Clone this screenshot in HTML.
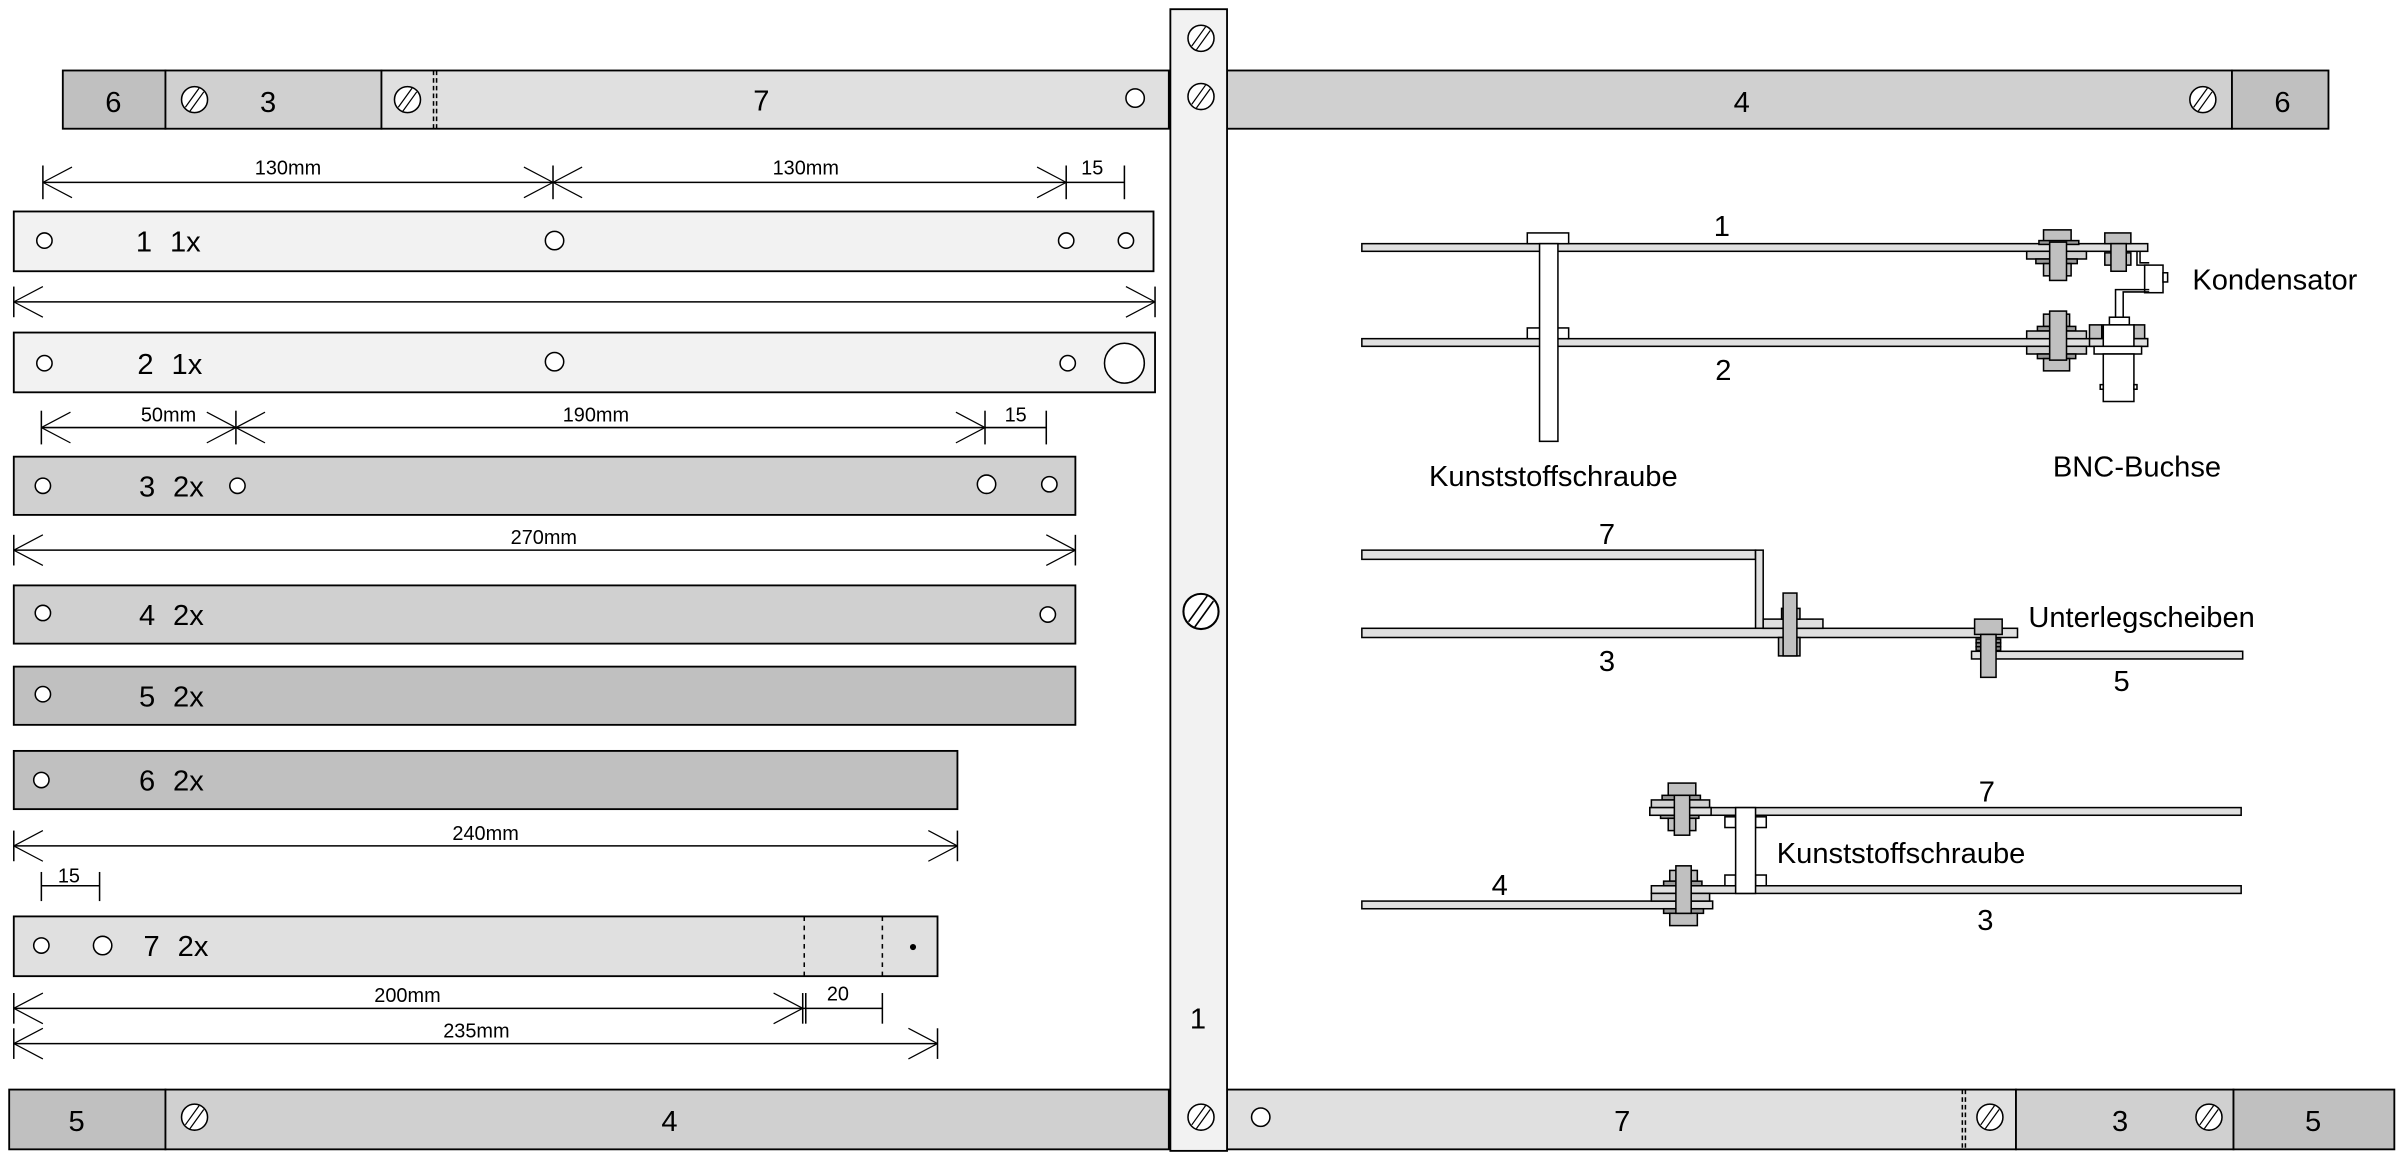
<!DOCTYPE html>
<html><head><meta charset="utf-8"><style>
html,body{margin:0;padding:0;background:#fff;}
svg{display:block;}
text{font-family:"Liberation Sans",Arial,sans-serif;fill:#000;}
</style></head><body>
<svg width="2402" height="1157" viewBox="0 0 1568 755" preserveAspectRatio="none" xmlns="http://www.w3.org/2000/svg">
<defs>
<g id="sc"><circle r="8.5" fill="#fff" stroke="#000" stroke-width="1"/><line x1="-6" y1="5" x2="3" y2="-7.5" stroke="#000" stroke-width="0.8"/><line x1="-3" y1="7.5" x2="6" y2="-5" stroke="#000" stroke-width="0.8"/></g>
<g id="ar"><path d="M0,0 L19,-10 M0,0 L19,10" stroke="#000" stroke-width="0.8" fill="none"/></g>
</defs>
<g stroke="#000" stroke-width="1.2">
<rect x="41" y="46" width="67" height="38" fill="#c0c0c0"/>
<rect x="108" y="46" width="141" height="38" fill="#d0d0d0"/>
<rect x="249" y="46" width="514" height="38" fill="#e0e0e0"/>
<rect x="801" y="46" width="656" height="38" fill="#d0d0d0"/>
<rect x="1457" y="46" width="63" height="38" fill="#c0c0c0"/>
<rect x="6" y="711" width="102" height="39" fill="#c0c0c0"/>
<rect x="108" y="711" width="655" height="39" fill="#d0d0d0"/>
<rect x="801" y="711" width="515" height="39" fill="#e0e0e0"/>
<rect x="1316" y="711" width="142" height="39" fill="#d0d0d0"/>
<rect x="1458" y="711" width="105" height="39" fill="#c0c0c0"/>
<rect x="764" y="6" width="37" height="745" fill="#f2f2f2"/>
</g>
<g stroke="#000" stroke-width="1" stroke-dasharray="3,2">
<line x1="283" y1="46" x2="283" y2="84"/><line x1="285" y1="46" x2="285" y2="84"/>
<line x1="1281" y1="711" x2="1281" y2="750"/><line x1="1283" y1="711" x2="1283" y2="750"/>
</g>
<use href="#sc" x="127" y="65"/><use href="#sc" x="266" y="65"/>
<use href="#sc" x="784" y="25"/><use href="#sc" x="784" y="63"/>
<use href="#sc" x="1438" y="65"/>
<use href="#sc" transform="translate(784,399) scale(1.35)"/>
<use href="#sc" x="784" y="729"/><use href="#sc" x="127" y="729"/>
<use href="#sc" x="1299" y="729"/><use href="#sc" x="1442" y="729"/>
<g fill="#fff" stroke="#000" stroke-width="1">
<circle cx="741" cy="64" r="6"/><circle cx="823" cy="729" r="6"/>
</g>
<g font-size="19" text-anchor="middle">
<text x="74" y="73">6</text><text x="175" y="73">3</text><text x="497" y="72">7</text>
<text x="1137" y="73">4</text><text x="1490" y="73">6</text>
<text x="50" y="738">5</text><text x="437" y="738">4</text><text x="1059" y="738">7</text>
<text x="1384" y="738">3</text><text x="1510" y="738">5</text>
<text x="782" y="671">1</text>
</g>

<g stroke="#000" stroke-width="1.2">
<rect x="9" y="138" width="744" height="39" fill="#f2f2f2"/>
<rect x="9" y="217" width="745" height="39" fill="#f2f2f2"/>
<rect x="9" y="298" width="693" height="38" fill="#d0d0d0"/>
<rect x="9" y="382" width="693" height="38" fill="#d0d0d0"/>
<rect x="9" y="435" width="693" height="38" fill="#c0c0c0"/>
<rect x="9" y="490" width="616" height="38" fill="#c0c0c0"/>
<rect x="9" y="598" width="603" height="39" fill="#e0e0e0"/>
</g>
<g stroke="#000" stroke-width="1" stroke-dasharray="3,3">
<line x1="525" y1="598" x2="525" y2="637"/><line x1="576" y1="598" x2="576" y2="637"/>
</g>
<circle cx="596" cy="618" r="2" fill="#000"/>
<g fill="#fff" stroke="#000" stroke-width="1">
<circle cx="29" cy="157" r="5"/><circle cx="362" cy="157" r="6"/><circle cx="696" cy="157" r="5"/><circle cx="735" cy="157" r="5"/>
<circle cx="29" cy="237" r="5"/><circle cx="362" cy="236" r="6"/><circle cx="697" cy="237" r="5"/><circle cx="734" cy="237" r="13"/>
<circle cx="28" cy="317" r="5"/><circle cx="155" cy="317" r="5"/><circle cx="644" cy="316" r="6"/><circle cx="685" cy="316" r="5"/>
<circle cx="28" cy="400" r="5"/><circle cx="684" cy="401" r="5"/>
<circle cx="28" cy="453" r="5"/>
<circle cx="27" cy="509" r="5"/>
<circle cx="27" cy="617" r="5"/><circle cx="67" cy="617" r="6"/>
</g>
<g font-size="19" text-anchor="middle">
<text x="94" y="164">1</text><text x="121" y="164">1x</text>
<text x="95" y="244">2</text><text x="122" y="244">1x</text>
<text x="96" y="324">3</text><text x="123" y="324">2x</text>
<text x="96" y="408">4</text><text x="123" y="408">2x</text>
<text x="96" y="461">5</text><text x="123" y="461">2x</text>
<text x="96" y="516">6</text><text x="123" y="516">2x</text>
<text x="99" y="624">7</text><text x="126" y="624">2x</text>
</g>

<g stroke="#000" stroke-width="1" fill="none">
<line x1="28" y1="119" x2="734" y2="119"/>
<line x1="28" y1="108" x2="28" y2="130"/><line x1="361" y1="108" x2="361" y2="130"/><line x1="696" y1="108" x2="696" y2="130"/><line x1="734" y1="108" x2="734" y2="130"/>
<line x1="9" y1="197" x2="754" y2="197"/><line x1="9" y1="187" x2="9" y2="207"/><line x1="754" y1="187" x2="754" y2="207"/>
<line x1="27" y1="279" x2="683" y2="279"/>
<line x1="27" y1="268" x2="27" y2="290"/><line x1="154" y1="268" x2="154" y2="290"/><line x1="643" y1="268" x2="643" y2="290"/><line x1="683" y1="268" x2="683" y2="290"/>
<line x1="9" y1="359" x2="702" y2="359"/><line x1="9" y1="349" x2="9" y2="369"/><line x1="702" y1="349" x2="702" y2="369"/>
<line x1="9" y1="552" x2="625" y2="552"/><line x1="9" y1="542" x2="9" y2="562"/><line x1="625" y1="542" x2="625" y2="562"/>
<line x1="27" y1="578" x2="65" y2="578"/><line x1="27" y1="569" x2="27" y2="588"/><line x1="65" y1="569" x2="65" y2="588"/>
<line x1="9" y1="658" x2="576" y2="658"/><line x1="9" y1="648" x2="9" y2="668"/><line x1="524" y1="648" x2="524" y2="668"/><line x1="526" y1="648" x2="526" y2="668"/><line x1="576" y1="648" x2="576" y2="668"/>
<line x1="9" y1="681" x2="612" y2="681"/><line x1="9" y1="671" x2="9" y2="691"/><line x1="612" y1="671" x2="612" y2="691"/>
</g>
<use href="#ar" x="28" y="119"/><use href="#ar" transform="translate(361,119) scale(-1,1)"/><use href="#ar" x="361" y="119"/><use href="#ar" transform="translate(696,119) scale(-1,1)"/>
<use href="#ar" x="9" y="197"/><use href="#ar" transform="translate(754,197) scale(-1,1)"/>
<use href="#ar" x="27" y="279"/><use href="#ar" transform="translate(154,279) scale(-1,1)"/><use href="#ar" x="154" y="279"/><use href="#ar" transform="translate(643,279) scale(-1,1)"/>
<use href="#ar" x="9" y="359"/><use href="#ar" transform="translate(702,359) scale(-1,1)"/>
<use href="#ar" x="9" y="552"/><use href="#ar" transform="translate(625,552) scale(-1,1)"/>
<use href="#ar" x="9" y="658"/><use href="#ar" transform="translate(524,658) scale(-1,1)"/>
<use href="#ar" x="9" y="681"/><use href="#ar" transform="translate(612,681) scale(-1,1)"/>
<g font-size="13" text-anchor="middle">
<text x="188" y="114">130mm</text><text x="526" y="114">130mm</text><text x="713" y="114">15</text>
<text x="110" y="275">50mm</text><text x="389" y="275">190mm</text><text x="663" y="275">15</text>
<text x="355" y="355">270mm</text>
<text x="317" y="548">240mm</text>
<text x="45" y="576">15</text>
<text x="266" y="654">200mm</text><text x="547" y="653">20</text>
<text x="311" y="677">235mm</text>
</g>

<g stroke="#000" stroke-width="1">
<rect x="889" y="159" width="513" height="5" fill="#e0e0e0"/>
<rect x="889" y="221" width="513" height="5" fill="#e0e0e0"/>
<rect x="997" y="152" width="27" height="7" fill="#fff"/>
<rect x="997" y="214" width="27" height="7" fill="#fff"/>
<rect x="1005" y="159" width="12" height="129" fill="#fff"/>
<rect x="1334" y="150" width="18" height="8" fill="#c0c0c0"/>
<rect x="1331" y="157" width="26" height="2.5" fill="#999"/>
<rect x="1323" y="164" width="39" height="5" fill="#d0d0d0"/>
<rect x="1329" y="169" width="27" height="3" fill="#999"/>
<rect x="1334" y="172" width="18" height="8" fill="#c0c0c0"/>
<rect x="1338" y="158" width="11" height="25" fill="#c0c0c0"/>
<rect x="1374" y="152" width="17" height="7" fill="#c0c0c0"/>
<rect x="1374" y="165" width="17" height="8" fill="#c0c0c0"/>
<rect x="1378" y="159" width="10" height="18" fill="#c0c0c0"/>
<path d="M1395,164 V173 H1403" fill="none"/><path d="M1397,164 V171.5 H1403" fill="none"/>
<rect x="1400" y="173" width="12" height="18" fill="#fff"/>
<rect x="1412" y="178" width="3" height="6" fill="#fff"/>
<path d="M1403,189 H1381 V207 M1403,190.5 H1386 V207" fill="none"/>
<rect x="1364" y="212" width="8" height="9" fill="#c0c0c0"/>
<rect x="1393" y="212" width="7" height="9" fill="#c0c0c0"/>
<rect x="1364" y="221" width="38" height="5" fill="#e0e0e0"/>
<rect x="1377" y="207" width="13" height="5" fill="#fff"/>
<rect x="1373" y="212" width="20" height="14" fill="#fff"/>
<rect x="1367" y="226" width="31" height="5" fill="#fff"/>
<rect x="1373" y="231" width="20" height="31" fill="#fff"/>
<rect x="1371" y="251" width="2" height="3" fill="#fff"/><rect x="1393" y="251" width="2" height="3" fill="#fff"/>
<rect x="1334" y="205" width="17" height="8" fill="#c0c0c0"/>
<rect x="1330" y="213" width="25" height="3" fill="#999"/>
<rect x="1323" y="216" width="39" height="5" fill="#d0d0d0"/>
<rect x="1323" y="226" width="39" height="5" fill="#d0d0d0"/>
<rect x="1330" y="231" width="25" height="3" fill="#999"/>
<rect x="1334" y="234" width="17" height="8" fill="#c0c0c0"/>
<rect x="1338" y="203" width="11" height="32" fill="#c0c0c0"/>
</g>
<g font-size="19" text-anchor="middle">
<text x="1124" y="154">1</text><text x="1125" y="248">2</text>
<text x="1485" y="189">Kondensator</text>
<text x="1014" y="317">Kunststoffschraube</text>
<text x="1395" y="311">BNC-Buchse</text>
</g>

<g stroke="#000" stroke-width="1">
<rect x="889" y="359" width="257" height="6" fill="#e0e0e0"/>
<rect x="1146" y="359" width="5" height="51" fill="#e0e0e0"/>
<rect x="889" y="410" width="428" height="6" fill="#e0e0e0"/>
<rect x="1151" y="404" width="39" height="6" fill="#e0e0e0"/>
<rect x="1163" y="397" width="12" height="7" fill="#c0c0c0"/>
<rect x="1161" y="416" width="14" height="12" fill="#c0c0c0"/>
<rect x="1164" y="387" width="9" height="41" fill="#c0c0c0"/>
<rect x="1287" y="425" width="177" height="5" fill="#e0e0e0"/>
<rect x="1289" y="404" width="18" height="10" fill="#c0c0c0"/>
<rect x="1290" y="417" width="16" height="2.5" fill="#888"/>
<rect x="1290" y="419.5" width="16" height="2.5" fill="#888"/>
<rect x="1290" y="422" width="16" height="2.5" fill="#888"/>
<rect x="1293" y="414" width="10" height="28" fill="#c0c0c0"/>
</g>
<g font-size="19" text-anchor="middle">
<text x="1049" y="355">7</text><text x="1049" y="438">3</text>
<text x="1398" y="409">Unterlegscheiben</text><text x="1385" y="451">5</text>
</g>

<g stroke="#000" stroke-width="1">
<rect x="1077" y="527" width="386" height="5" fill="#e0e0e0"/>
<rect x="1078" y="578" width="385" height="5" fill="#e0e0e0"/>
<rect x="889" y="588" width="229" height="5" fill="#e0e0e0"/>
<rect x="1126" y="533" width="7" height="7" fill="#fff"/><rect x="1146" y="533" width="7" height="7" fill="#fff"/>
<rect x="1126" y="571" width="7" height="7" fill="#fff"/><rect x="1146" y="571" width="7" height="7" fill="#fff"/>
<rect x="1133" y="527" width="13" height="56" fill="#fff"/>
<rect x="1089" y="511" width="18" height="8" fill="#c0c0c0"/>
<rect x="1085" y="519" width="25" height="3" fill="#999"/>
<rect x="1078" y="522" width="38" height="5" fill="#d0d0d0"/>
<rect x="1077" y="527" width="40" height="5" fill="#e0e0e0"/>
<rect x="1084" y="532" width="25" height="2" fill="#999"/>
<rect x="1089" y="534" width="18" height="8" fill="#c0c0c0"/>
<rect x="1093" y="519" width="10" height="26" fill="#c0c0c0"/>
<rect x="1090" y="568" width="18" height="7" fill="#c0c0c0"/>
<rect x="1086" y="575" width="25" height="3" fill="#999"/>
<rect x="1078" y="583" width="38" height="5" fill="#d0d0d0"/>
<rect x="1086" y="593" width="26" height="3" fill="#999"/>
<rect x="1090" y="596" width="18" height="8" fill="#c0c0c0"/>
<rect x="1094" y="565" width="10" height="31" fill="#c0c0c0"/>
</g>
<g font-size="19" text-anchor="middle">
<text x="1297" y="523">7</text><text x="1241" y="563">Kunststoffschraube</text>
<text x="979" y="584">4</text><text x="1296" y="607">3</text>
</g>
</svg>
</body></html>
